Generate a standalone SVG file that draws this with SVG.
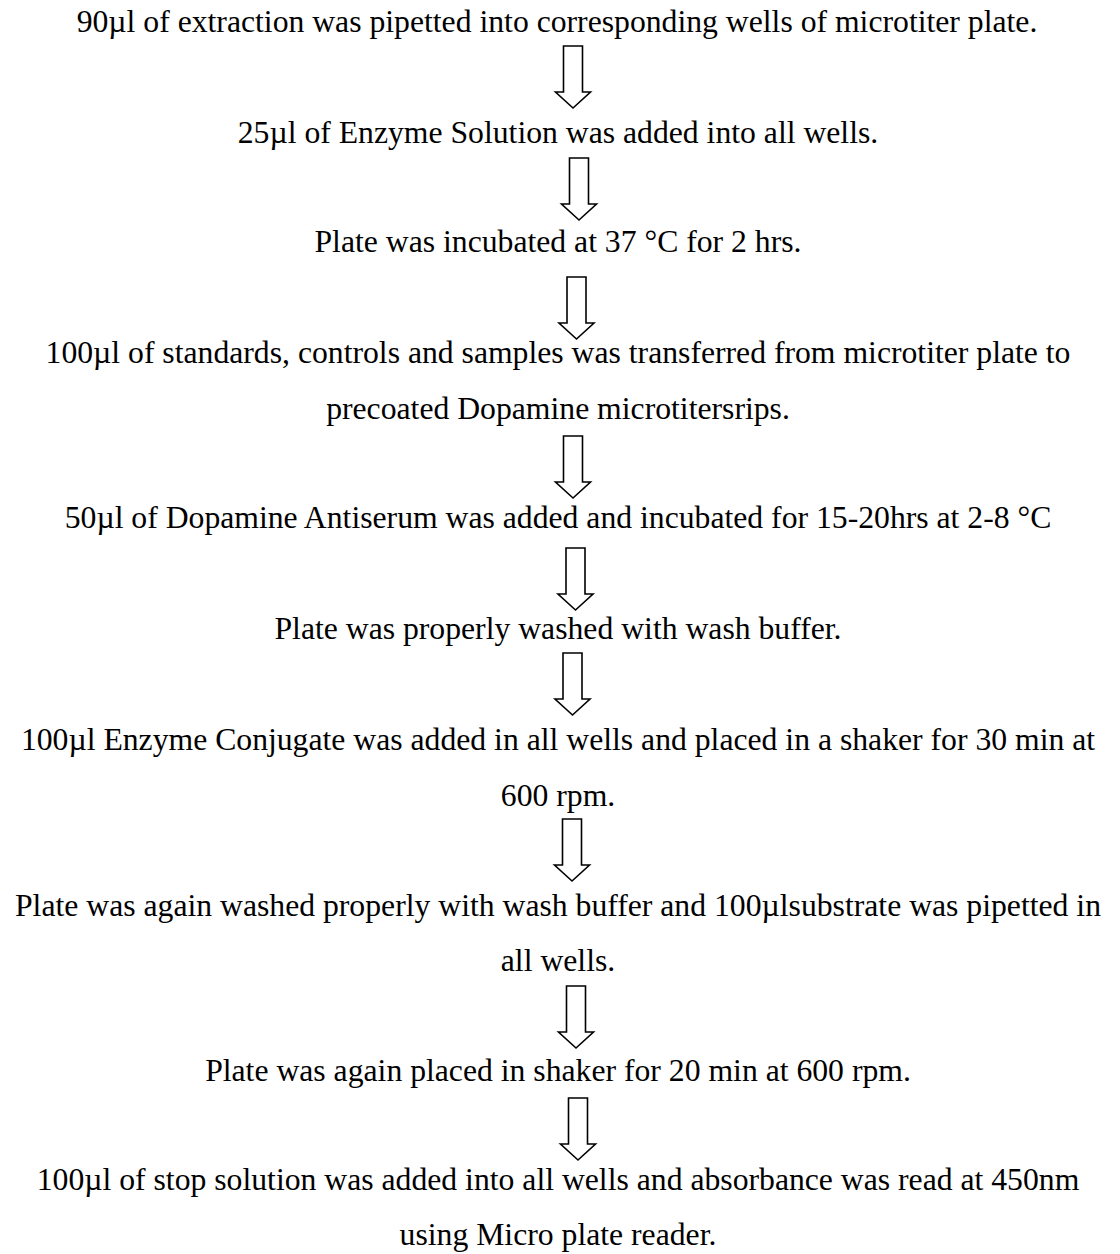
<svg xmlns="http://www.w3.org/2000/svg" width="1120" height="1254" viewBox="0 0 1120 1254">
<defs>
<style>
text{font-family:"Liberation Serif","Times New Roman",serif;font-size:31.7px;fill:#000;text-anchor:middle}
.arr{fill:#fff;stroke:#000;stroke-width:1.6;stroke-linejoin:miter}
</style>
<path id="ar" class="arr" d="M-9.5,0 H9.5 V46 H17.5 L0,62 L-17.5,46 H-9.5 Z"/>
</defs>
<rect width="1120" height="1254" fill="#fff"/>
<g id="n1"><text x="557" y="32">90µl of extraction was pipetted into corresponding wells of microtiter plate.</text></g>
<g id="n2"><text x="558" y="143">25µl of Enzyme Solution was added into all wells.</text></g>
<g id="n3"><text x="558" y="252">Plate was incubated at 37 °C for 2 hrs.</text></g>
<g id="n4"><text x="558" y="363">100µl of standards, controls and samples was transferred from microtiter plate to</text><text x="558" y="419">precoated Dopamine microtitersrips.</text></g>
<g id="n5"><text x="558" y="528">50µl of Dopamine Antiserum was added and incubated for 15-20hrs at 2-8 °C</text></g>
<g id="n6"><text x="558" y="639">Plate was properly washed with wash buffer.</text></g>
<g id="n7"><text x="558" y="750">100µl Enzyme Conjugate was added in all wells and placed in a shaker for 30 min at</text><text x="558" y="806">600 rpm.</text></g>
<g id="n8"><text x="558" y="916">Plate was again washed properly with wash buffer and 100µlsubstrate was pipetted in</text><text x="558" y="971">all wells.</text></g>
<g id="n9"><text x="558" y="1081">Plate was again placed in shaker for 20 min at 600 rpm.</text></g>
<g id="n10"><text x="558" y="1190">100µl of stop solution was added into all wells and absorbance was read at 450nm</text><text x="558" y="1245">using Micro plate reader.</text></g>
<g id="connectors">
<use href="#ar" x="573" y="46"/>
<use href="#ar" x="579" y="158"/>
<use href="#ar" x="576.5" y="277"/>
<use href="#ar" x="573" y="436"/>
<use href="#ar" x="575.5" y="548"/>
<use href="#ar" x="572.5" y="653"/>
<use href="#ar" x="572" y="819"/>
<use href="#ar" x="576" y="986"/>
<use href="#ar" x="578" y="1098"/>
</g>
</svg>
